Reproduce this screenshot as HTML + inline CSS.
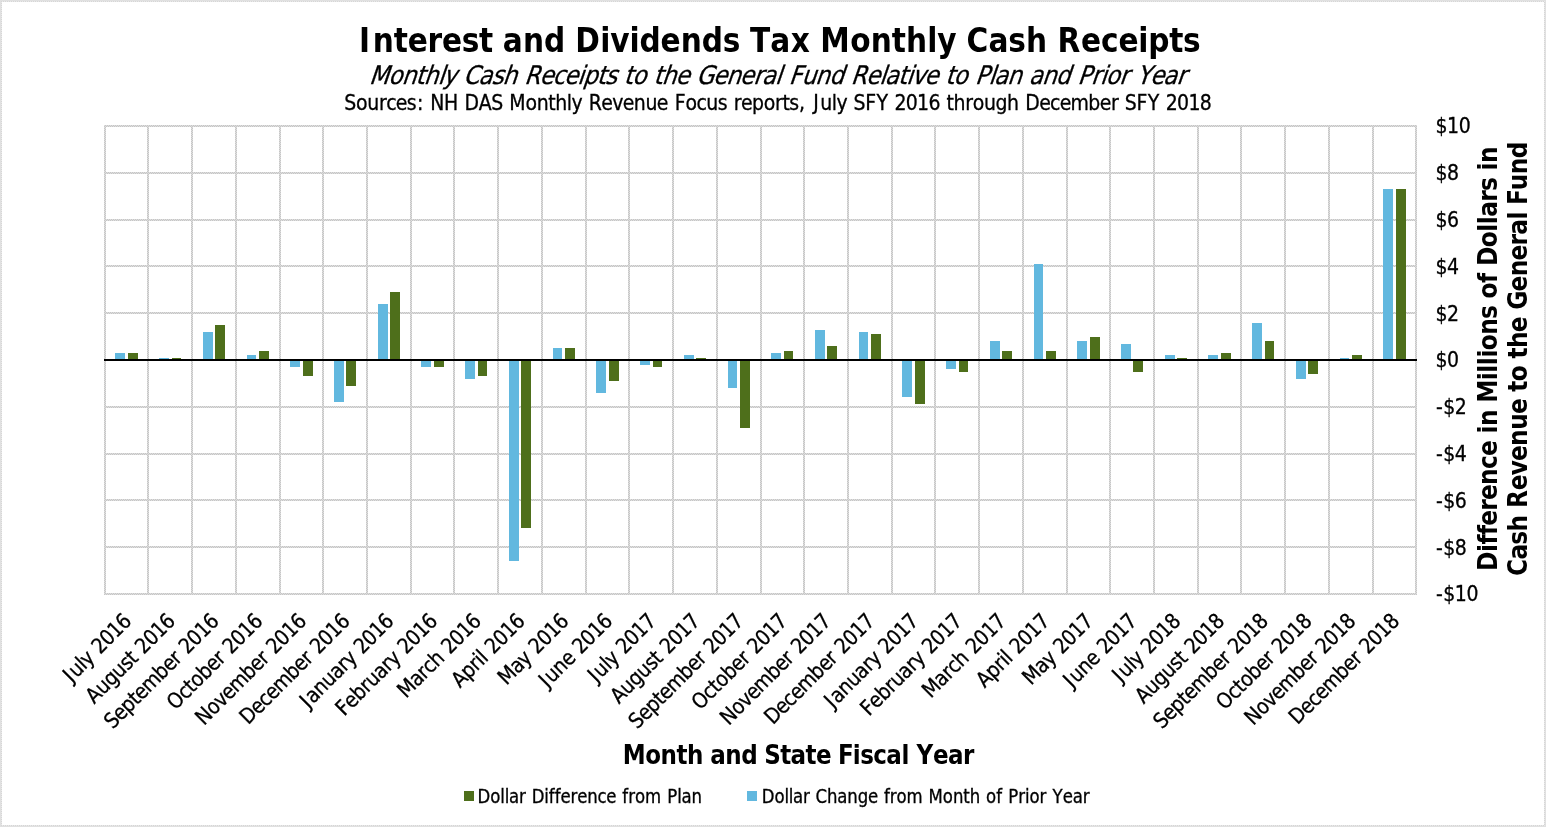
<!DOCTYPE html>
<html lang="en"><head><meta charset="utf-8">
<title>Interest and Dividends Tax Monthly Cash Receipts</title>
<style>html,body{margin:0;padding:0;background:#fff}body{width:1546px;height:827px;overflow:hidden}svg{display:block}text{font-family:'DejaVu Sans Condensed','DejaVu Sans','Liberation Sans',sans-serif;fill:#000;font-variant-ligatures:none;font-kerning:none}</style>
</head><body>
<svg width="1546" height="827" viewBox="0 0 1546 827">
<rect x="0" y="0" width="1546" height="827" fill="#fff"/>
<defs><pattern id="ck" width="2" height="2" patternUnits="userSpaceOnUse"><rect width="2" height="2" fill="#dedede"/><rect x="0" y="0" width="1" height="1" fill="#c6c6c6"/><rect x="1" y="1" width="1" height="1" fill="#c6c6c6"/></pattern><pattern id="dt" width="2" height="2" patternUnits="userSpaceOnUse"><rect width="2" height="2" fill="#e9e9e9"/><rect x="0" y="0" width="1" height="1" fill="#d6d6d6"/><rect x="1" y="1" width="1" height="1" fill="#d6d6d6"/></pattern></defs>
<g shape-rendering="crispEdges">
<rect x="0" y="0" width="1546" height="827" fill="#e0e0e0"/>
<rect x="1" y="1" width="1544" height="825" fill="url(#dt)"/>
<rect x="2" y="2" width="1542" height="823" fill="#fff"/>
</g>
<g fill="url(#ck)" shape-rendering="crispEdges">
<rect x="104" y="125" width="2" height="470"/>
<rect x="147" y="125" width="2" height="470"/>
<rect x="191" y="125" width="2" height="470"/>
<rect x="235" y="125" width="2" height="470"/>
<rect x="279" y="125" width="2" height="470"/>
<rect x="322" y="125" width="2" height="470"/>
<rect x="366" y="125" width="2" height="470"/>
<rect x="410" y="125" width="2" height="470"/>
<rect x="453" y="125" width="2" height="470"/>
<rect x="497" y="125" width="2" height="470"/>
<rect x="541" y="125" width="2" height="470"/>
<rect x="585" y="125" width="2" height="470"/>
<rect x="628" y="125" width="2" height="470"/>
<rect x="672" y="125" width="2" height="470"/>
<rect x="716" y="125" width="2" height="470"/>
<rect x="760" y="125" width="2" height="470"/>
<rect x="803" y="125" width="2" height="470"/>
<rect x="847" y="125" width="2" height="470"/>
<rect x="891" y="125" width="2" height="470"/>
<rect x="934" y="125" width="2" height="470"/>
<rect x="978" y="125" width="2" height="470"/>
<rect x="1022" y="125" width="2" height="470"/>
<rect x="1066" y="125" width="2" height="470"/>
<rect x="1109" y="125" width="2" height="470"/>
<rect x="1153" y="125" width="2" height="470"/>
<rect x="1197" y="125" width="2" height="470"/>
<rect x="1240" y="125" width="2" height="470"/>
<rect x="1284" y="125" width="2" height="470"/>
<rect x="1328" y="125" width="2" height="470"/>
<rect x="1372" y="125" width="2" height="470"/>
<rect x="1415" y="125" width="2" height="470"/>
<rect x="104" y="125" width="1313" height="2"/>
<rect x="104" y="172" width="1313" height="2"/>
<rect x="104" y="219" width="1313" height="2"/>
<rect x="104" y="265" width="1313" height="2"/>
<rect x="104" y="312" width="1313" height="2"/>
<rect x="104" y="406" width="1313" height="2"/>
<rect x="104" y="453" width="1313" height="2"/>
<rect x="104" y="499" width="1313" height="2"/>
<rect x="104" y="546" width="1313" height="2"/>
<rect x="104" y="593" width="1313" height="2"/>
</g>
<g shape-rendering="crispEdges">
<rect x="115" y="353" width="10" height="7" fill="#62b8df"/>
<rect x="128" y="353" width="10" height="7" fill="#4e6f1b"/>
<rect x="159" y="358" width="10" height="2" fill="#62b8df"/>
<rect x="172" y="358" width="9" height="2" fill="#4e6f1b"/>
<rect x="203" y="332" width="10" height="28" fill="#62b8df"/>
<rect x="215" y="325" width="10" height="35" fill="#4e6f1b"/>
<rect x="247" y="355" width="9" height="5" fill="#62b8df"/>
<rect x="259" y="351" width="10" height="9" fill="#4e6f1b"/>
<rect x="290" y="360" width="10" height="7" fill="#62b8df"/>
<rect x="303" y="360" width="10" height="16" fill="#4e6f1b"/>
<rect x="334" y="360" width="10" height="42" fill="#62b8df"/>
<rect x="346" y="360" width="10" height="26" fill="#4e6f1b"/>
<rect x="378" y="304" width="10" height="56" fill="#62b8df"/>
<rect x="390" y="292" width="10" height="68" fill="#4e6f1b"/>
<rect x="421" y="360" width="10" height="7" fill="#62b8df"/>
<rect x="434" y="360" width="10" height="7" fill="#4e6f1b"/>
<rect x="465" y="360" width="10" height="19" fill="#62b8df"/>
<rect x="478" y="360" width="9" height="16" fill="#4e6f1b"/>
<rect x="509" y="360" width="10" height="201" fill="#62b8df"/>
<rect x="521" y="360" width="10" height="168" fill="#4e6f1b"/>
<rect x="553" y="348" width="9" height="12" fill="#62b8df"/>
<rect x="565" y="348" width="10" height="12" fill="#4e6f1b"/>
<rect x="596" y="360" width="10" height="33" fill="#62b8df"/>
<rect x="609" y="360" width="10" height="21" fill="#4e6f1b"/>
<rect x="640" y="360" width="10" height="5" fill="#62b8df"/>
<rect x="653" y="360" width="9" height="7" fill="#4e6f1b"/>
<rect x="684" y="355" width="10" height="5" fill="#62b8df"/>
<rect x="696" y="358" width="10" height="2" fill="#4e6f1b"/>
<rect x="728" y="360" width="9" height="28" fill="#62b8df"/>
<rect x="740" y="360" width="10" height="68" fill="#4e6f1b"/>
<rect x="771" y="353" width="10" height="7" fill="#62b8df"/>
<rect x="784" y="351" width="9" height="9" fill="#4e6f1b"/>
<rect x="815" y="330" width="10" height="30" fill="#62b8df"/>
<rect x="827" y="346" width="10" height="14" fill="#4e6f1b"/>
<rect x="859" y="332" width="9" height="28" fill="#62b8df"/>
<rect x="871" y="334" width="10" height="26" fill="#4e6f1b"/>
<rect x="902" y="360" width="10" height="37" fill="#62b8df"/>
<rect x="915" y="360" width="10" height="44" fill="#4e6f1b"/>
<rect x="946" y="360" width="10" height="9" fill="#62b8df"/>
<rect x="959" y="360" width="9" height="12" fill="#4e6f1b"/>
<rect x="990" y="341" width="10" height="19" fill="#62b8df"/>
<rect x="1002" y="351" width="10" height="9" fill="#4e6f1b"/>
<rect x="1034" y="264" width="9" height="96" fill="#62b8df"/>
<rect x="1046" y="351" width="10" height="9" fill="#4e6f1b"/>
<rect x="1077" y="341" width="10" height="19" fill="#62b8df"/>
<rect x="1090" y="337" width="10" height="23" fill="#4e6f1b"/>
<rect x="1121" y="344" width="10" height="16" fill="#62b8df"/>
<rect x="1133" y="360" width="10" height="12" fill="#4e6f1b"/>
<rect x="1165" y="355" width="10" height="5" fill="#62b8df"/>
<rect x="1177" y="358" width="10" height="2" fill="#4e6f1b"/>
<rect x="1208" y="355" width="10" height="5" fill="#62b8df"/>
<rect x="1221" y="353" width="10" height="7" fill="#4e6f1b"/>
<rect x="1252" y="323" width="10" height="37" fill="#62b8df"/>
<rect x="1265" y="341" width="9" height="19" fill="#4e6f1b"/>
<rect x="1296" y="360" width="10" height="19" fill="#62b8df"/>
<rect x="1308" y="360" width="10" height="14" fill="#4e6f1b"/>
<rect x="1340" y="358" width="9" height="2" fill="#62b8df"/>
<rect x="1352" y="355" width="10" height="5" fill="#4e6f1b"/>
<rect x="1383" y="189" width="10" height="171" fill="#62b8df"/>
<rect x="1396" y="189" width="10" height="171" fill="#4e6f1b"/>
</g>
<rect x="104" y="359" width="1313" height="2" fill="#000" shape-rendering="crispEdges"/>
<text transform="translate(356.50,51.80) scale(0.9880,1)" font-size="33.33" font-weight="bold"><tspan x="2.58 16.45 37.79 51.85 71.99 86.58 106.55 124.04">Interest</tspan> <tspan x="148.13 168.50 189.87">and</tspan> <tspan x="221.47 246.67 256.91 276.43 286.56 307.77 328.11 349.49 370.62">Dividends</tspan> <tspan x="398.25 418.82 439.58">Tax</tspan> <tspan x="469.51 499.64 520.49 541.84 556.17 577.62 587.81">Monthly</tspan> <tspan x="617.47 639.75 659.75 677.51">Cash</tspan> <tspan x="709.61 733.28 753.50 771.15 791.32 801.44 822.66 836.63">Receipts</tspan></text>
<text transform="translate(369.0,83.8) skewX(-19) translate(0.00,0.00) scale(0.9850,1)" font-size="25.60" stroke="#000" stroke-width="0.3"><tspan x="-0.21 19.26 32.90 46.94 55.40 69.43 74.99">Monthly</tspan> <tspan x="95.53 110.72 124.03 135.39">Cash</tspan> <tspan x="157.47 172.85 186.06 197.75 211.17 216.92 230.91 239.27">Receipts</tspan> <tspan x="258.49 267.03">to</tspan> <tspan x="288.52 296.99 310.87">the</tspan> <tspan x="331.99 348.88 362.34 376.23 389.76 398.60 411.97">General</tspan> <tspan x="425.91 438.85 452.93 466.93">Fund</tspan> <tspan x="488.95 504.34 517.75 523.41 536.79 545.20 550.76 563.41">Relative</tspan> <tspan x="584.73 593.26">to</tspan> <tspan x="615.06 628.65 634.31 647.73">Plan</tspan> <tspan x="669.53 682.95 696.96">and</tspan> <tspan x="719.15 732.86 741.82 747.72 761.42">Prior</tspan> <tspan x="778.83 792.68 805.97 819.46">Year</tspan></text>
<text transform="translate(344.50,109.70) scale(0.9850,1)" font-size="21.33" stroke="#000" stroke-width="0.3"><tspan x="-0.20 11.65 23.08 34.93 42.28 52.08 63.27 73.49">Sources:</tspan> <tspan x="86.96 101.11">NH</tspan> <tspan x="121.87 136.21 148.91">DAS</tspan> <tspan x="167.39 183.69 195.12 206.87 213.98 225.72 230.40">Monthly</tspan> <tspan x="247.86 260.75 271.81 282.41 293.69 305.49 317.13">Revenue</tspan> <tspan x="335.21 346.11 357.32 367.29 378.99">Focus</tspan> <tspan x="395.19 402.59 413.81 425.63 437.10 444.62 451.63 461.50">reports,</tspan> <tspan x="475.95 483.01 494.75 499.42">July</tspan> <tspan x="516.78 528.75 540.02">SFY</tspan> <tspan x="558.25 569.80 581.35 592.89">2016</tspan> <tspan x="611.16 618.27 630.12 637.74 649.17 660.91 672.66">through</tspan> <tspan x="691.05 705.26 716.33 726.13 737.14 755.12 766.72 778.05">December</tspan> <tspan x="792.21 804.19 815.45">SFY</tspan> <tspan x="833.69 845.23 856.78 868.33">2018</tspan></text>
<text transform="translate(1435.60,133.30) scale(0.9850,1)" font-size="21.33" stroke="#000" stroke-width="0.3"><tspan x="-0.19 11.63 23.46">$10</tspan></text>
<text transform="translate(1435.60,180.10) scale(0.9850,1)" font-size="21.33" stroke="#000" stroke-width="0.3"><tspan x="-0.19 11.63">$8</tspan></text>
<text transform="translate(1435.60,226.90) scale(0.9850,1)" font-size="21.33" stroke="#000" stroke-width="0.3"><tspan x="-0.19 11.63">$6</tspan></text>
<text transform="translate(1435.60,273.70) scale(0.9850,1)" font-size="21.33" stroke="#000" stroke-width="0.3"><tspan x="-0.19 11.63">$4</tspan></text>
<text transform="translate(1435.60,320.50) scale(0.9850,1)" font-size="21.33" stroke="#000" stroke-width="0.3"><tspan x="-0.19 11.63">$2</tspan></text>
<text transform="translate(1435.60,367.30) scale(0.9850,1)" font-size="21.33" stroke="#000" stroke-width="0.3"><tspan x="-0.19 11.63">$0</tspan></text>
<text transform="translate(1435.60,414.10) scale(0.9850,1)" font-size="21.33" stroke="#000" stroke-width="0.3"><tspan x="0.47 7.67 19.49">-$2</tspan></text>
<text transform="translate(1435.60,460.90) scale(0.9850,1)" font-size="21.33" stroke="#000" stroke-width="0.3"><tspan x="0.47 7.67 19.49">-$4</tspan></text>
<text transform="translate(1435.60,507.70) scale(0.9850,1)" font-size="21.33" stroke="#000" stroke-width="0.3"><tspan x="0.47 7.67 19.49">-$6</tspan></text>
<text transform="translate(1435.60,554.50) scale(0.9850,1)" font-size="21.33" stroke="#000" stroke-width="0.3"><tspan x="0.47 7.67 19.49">-$8</tspan></text>
<text transform="translate(1435.60,601.30) scale(0.9850,1)" font-size="21.33" stroke="#000" stroke-width="0.3"><tspan x="0.47 7.67 19.49 31.32">-$10</tspan></text>
<text transform="translate(132.56,622.50) rotate(-45) translate(-87.55,0.00) scale(0.9850,1)" font-size="21.33" stroke="#000" stroke-width="0.3"><tspan x="1.59 8.65 20.40 25.08">July</tspan> <tspan x="42.33 53.89 65.44 77.00">2016</tspan></text>
<text transform="translate(176.28,622.50) rotate(-45) translate(-115.63,0.00) scale(0.9850,1)" font-size="21.33" stroke="#000" stroke-width="0.3"><tspan x="-0.21 12.52 24.27 36.04 47.75 57.24">August</tspan> <tspan x="70.84 82.40 93.96 105.51">2016</tspan></text>
<text transform="translate(220.00,622.50) rotate(-45) translate(-151.62,0.00) scale(0.9850,1)" font-size="21.33" stroke="#000" stroke-width="0.3"><tspan x="-0.20 11.45 22.68 34.41 41.36 52.38 70.37 81.98 93.32">September</tspan> <tspan x="107.38 118.93 130.49 142.05">2016</tspan></text>
<text transform="translate(263.72,622.50) rotate(-45) translate(-124.72,0.00) scale(0.9850,1)" font-size="21.33" stroke="#000" stroke-width="0.3"><tspan x="-0.06 14.59 24.52 31.69 43.07 54.68 66.02">October</tspan> <tspan x="80.07 91.63 103.18 114.74">2016</tspan></text>
<text transform="translate(307.44,622.50) rotate(-45) translate(-146.16,0.00) scale(0.9850,1)" font-size="21.33" stroke="#000" stroke-width="0.3"><tspan x="-0.12 14.00 25.21 35.82 46.83 64.83 76.44 87.78">November</tspan> <tspan x="101.83 113.39 124.94 136.50">2016</tspan></text>
<text transform="translate(351.16,622.50) rotate(-45) translate(-145.26,0.00) scale(0.9850,1)" font-size="21.33" stroke="#000" stroke-width="0.3"><tspan x="-0.21 14.01 25.09 34.91 45.92 63.92 75.53 86.87">December</tspan> <tspan x="100.92 112.48 124.03 135.59">2016</tspan></text>
<text transform="translate(394.88,622.50) rotate(-45) translate(-123.81,0.00) scale(0.9850,1)" font-size="21.33" stroke="#000" stroke-width="0.3"><tspan x="1.59 8.50 19.76 31.57 43.24 54.54 61.89">January</tspan> <tspan x="79.14 90.70 102.25 113.81">2016</tspan></text>
<text transform="translate(438.60,622.50) rotate(-45) translate(-133.40,0.00) scale(0.9850,1)" font-size="21.33" stroke="#000" stroke-width="0.3"><tspan x="-0.01 10.69 21.92 33.74 41.31 52.98 64.28 71.63">February</tspan> <tspan x="88.88 100.43 111.99 123.55">2016</tspan></text>
<text transform="translate(482.32,622.50) rotate(-45) translate(-107.84,0.00) scale(0.9850,1)" font-size="21.33" stroke="#000" stroke-width="0.3"><tspan x="-0.12 16.00 27.30 34.66 44.63">March</tspan> <tspan x="62.92 74.48 86.04 97.60">2016</tspan></text>
<text transform="translate(526.04,622.50) rotate(-45) translate(-93.16,0.00) scale(0.9850,1)" font-size="21.33" stroke="#000" stroke-width="0.3"><tspan x="-0.21 12.46 24.27 31.78 36.63">April</tspan> <tspan x="48.02 59.58 71.14 82.69">2016</tspan></text>
<text transform="translate(569.76,622.50) rotate(-45) translate(-89.47,0.00) scale(0.9850,1)" font-size="21.33" stroke="#000" stroke-width="0.3"><tspan x="-0.12 16.00 27.03">May</tspan> <tspan x="44.28 55.83 67.39 78.95">2016</tspan></text>
<text transform="translate(613.48,622.50) rotate(-45) translate(-94.99,0.00) scale(0.9850,1)" font-size="21.33" stroke="#000" stroke-width="0.3"><tspan x="1.59 8.65 20.46 32.11">June</tspan> <tspan x="49.88 61.44 73.00 84.56">2016</tspan></text>
<text transform="translate(657.20,622.50) rotate(-45) translate(-87.55,0.00) scale(0.9850,1)" font-size="21.33" stroke="#000" stroke-width="0.3"><tspan x="1.59 8.65 20.40 25.08">July</tspan> <tspan x="42.33 53.89 65.44 77.00">2017</tspan></text>
<text transform="translate(700.92,622.50) rotate(-45) translate(-115.63,0.00) scale(0.9850,1)" font-size="21.33" stroke="#000" stroke-width="0.3"><tspan x="-0.21 12.52 24.27 36.04 47.75 57.24">August</tspan> <tspan x="70.84 82.40 93.96 105.51">2017</tspan></text>
<text transform="translate(744.64,622.50) rotate(-45) translate(-151.62,0.00) scale(0.9850,1)" font-size="21.33" stroke="#000" stroke-width="0.3"><tspan x="-0.20 11.45 22.68 34.41 41.36 52.38 70.37 81.98 93.32">September</tspan> <tspan x="107.38 118.93 130.49 142.05">2017</tspan></text>
<text transform="translate(788.36,622.50) rotate(-45) translate(-124.72,0.00) scale(0.9850,1)" font-size="21.33" stroke="#000" stroke-width="0.3"><tspan x="-0.06 14.59 24.52 31.69 43.07 54.68 66.02">October</tspan> <tspan x="80.07 91.63 103.18 114.74">2017</tspan></text>
<text transform="translate(832.08,622.50) rotate(-45) translate(-146.16,0.00) scale(0.9850,1)" font-size="21.33" stroke="#000" stroke-width="0.3"><tspan x="-0.12 14.00 25.21 35.82 46.83 64.83 76.44 87.78">November</tspan> <tspan x="101.83 113.39 124.94 136.50">2017</tspan></text>
<text transform="translate(875.80,622.50) rotate(-45) translate(-145.26,0.00) scale(0.9850,1)" font-size="21.33" stroke="#000" stroke-width="0.3"><tspan x="-0.21 14.01 25.09 34.91 45.92 63.92 75.53 86.87">December</tspan> <tspan x="100.92 112.48 124.03 135.59">2017</tspan></text>
<text transform="translate(919.52,622.50) rotate(-45) translate(-123.81,0.00) scale(0.9850,1)" font-size="21.33" stroke="#000" stroke-width="0.3"><tspan x="1.59 8.50 19.76 31.57 43.24 54.54 61.89">January</tspan> <tspan x="79.14 90.70 102.25 113.81">2017</tspan></text>
<text transform="translate(963.24,622.50) rotate(-45) translate(-133.40,0.00) scale(0.9850,1)" font-size="21.33" stroke="#000" stroke-width="0.3"><tspan x="-0.01 10.69 21.92 33.74 41.31 52.98 64.28 71.63">February</tspan> <tspan x="88.88 100.43 111.99 123.55">2017</tspan></text>
<text transform="translate(1006.96,622.50) rotate(-45) translate(-107.84,0.00) scale(0.9850,1)" font-size="21.33" stroke="#000" stroke-width="0.3"><tspan x="-0.12 16.00 27.30 34.66 44.63">March</tspan> <tspan x="62.92 74.48 86.04 97.60">2017</tspan></text>
<text transform="translate(1050.68,622.50) rotate(-45) translate(-93.16,0.00) scale(0.9850,1)" font-size="21.33" stroke="#000" stroke-width="0.3"><tspan x="-0.21 12.46 24.27 31.78 36.63">April</tspan> <tspan x="48.02 59.58 71.14 82.69">2017</tspan></text>
<text transform="translate(1094.40,622.50) rotate(-45) translate(-89.47,0.00) scale(0.9850,1)" font-size="21.33" stroke="#000" stroke-width="0.3"><tspan x="-0.12 16.00 27.03">May</tspan> <tspan x="44.28 55.83 67.39 78.95">2017</tspan></text>
<text transform="translate(1138.12,622.50) rotate(-45) translate(-94.99,0.00) scale(0.9850,1)" font-size="21.33" stroke="#000" stroke-width="0.3"><tspan x="1.59 8.65 20.46 32.11">June</tspan> <tspan x="49.88 61.44 73.00 84.56">2017</tspan></text>
<text transform="translate(1181.84,622.50) rotate(-45) translate(-87.55,0.00) scale(0.9850,1)" font-size="21.33" stroke="#000" stroke-width="0.3"><tspan x="1.59 8.65 20.40 25.08">July</tspan> <tspan x="42.33 53.89 65.44 77.00">2018</tspan></text>
<text transform="translate(1225.56,622.50) rotate(-45) translate(-115.63,0.00) scale(0.9850,1)" font-size="21.33" stroke="#000" stroke-width="0.3"><tspan x="-0.21 12.52 24.27 36.04 47.75 57.24">August</tspan> <tspan x="70.84 82.40 93.96 105.51">2018</tspan></text>
<text transform="translate(1269.28,622.50) rotate(-45) translate(-151.62,0.00) scale(0.9850,1)" font-size="21.33" stroke="#000" stroke-width="0.3"><tspan x="-0.20 11.45 22.68 34.41 41.36 52.38 70.37 81.98 93.32">September</tspan> <tspan x="107.38 118.93 130.49 142.05">2018</tspan></text>
<text transform="translate(1313.00,622.50) rotate(-45) translate(-124.72,0.00) scale(0.9850,1)" font-size="21.33" stroke="#000" stroke-width="0.3"><tspan x="-0.06 14.59 24.52 31.69 43.07 54.68 66.02">October</tspan> <tspan x="80.07 91.63 103.18 114.74">2018</tspan></text>
<text transform="translate(1356.72,622.50) rotate(-45) translate(-146.16,0.00) scale(0.9850,1)" font-size="21.33" stroke="#000" stroke-width="0.3"><tspan x="-0.12 14.00 25.21 35.82 46.83 64.83 76.44 87.78">November</tspan> <tspan x="101.83 113.39 124.94 136.50">2018</tspan></text>
<text transform="translate(1400.44,622.50) rotate(-45) translate(-145.26,0.00) scale(0.9850,1)" font-size="21.33" stroke="#000" stroke-width="0.3"><tspan x="-0.21 14.01 25.09 34.91 45.92 63.92 75.53 86.87">December</tspan> <tspan x="100.92 112.48 124.03 135.59">2018</tspan></text>
<text transform="translate(623.00,763.85) scale(0.9880,1)" font-size="25.90" font-weight="bold"><tspan x="-0.29 22.43 38.05 54.15 64.80">Month</tspan> <tspan x="88.35 103.60 119.62">and</tspan> <tspan x="142.98 159.08 169.65 184.79 195.24">State</tspan> <tspan x="217.49 232.64 240.04 253.27 266.57 281.85">Fiscal</tspan> <tspan x="297.14 313.67 328.83 344.02">Year</tspan></text>
<rect x="464" y="791" width="10" height="10" fill="#4e6f1b" shape-rendering="crispEdges"/>
<text transform="translate(477.50,802.90) scale(0.9850,1)" font-size="18.67" stroke="#000" stroke-width="0.3"><tspan x="0.01 13.01 23.19 27.56 31.95 42.11">Dollar</tspan> <tspan x="54.99 67.79 72.40 78.47 84.32 94.50 101.25 111.45 121.90 130.78">Difference</tspan> <tspan x="147.04 153.02 159.96 170.13">from</tspan> <tspan x="192.52 202.70 207.09 217.26">Plan</tspan></text>
<rect x="747" y="791" width="10" height="10" fill="#62b8df" shape-rendering="crispEdges"/>
<text transform="translate(761.80,802.90) scale(0.9850,1)" font-size="18.67" stroke="#000" stroke-width="0.3"><tspan x="-0.02 12.94 23.09 27.44 31.81 41.93">Dollar</tspan> <tspan x="54.61 66.19 76.67 86.80 97.36 107.80">Change</tspan> <tspan x="124.00 129.96 136.86 146.98">from</tspan> <tspan x="169.20 183.82 194.11 204.63 211.09">Month</tspan> <tspan x="227.71 238.09">of</tspan> <tspan x="250.21 260.49 267.21 271.76 282.04">Prior</tspan> <tspan x="295.22 305.67 315.70 325.81">Year</tspan></text>
<text transform="translate(1497.0,570.8) rotate(-90) translate(0.00,0.00) scale(0.9880,1)" font-size="26.20" font-weight="bold"><tspan x="-0.21 18.95 26.52 36.19 45.67 60.86 71.69 86.92 103.09 116.27">Difference</tspan> <tspan x="138.99 146.56">in</tspan> <tspan x="170.04 192.86 200.50 208.15 215.79 223.36 238.98 254.97">Millions</tspan> <tspan x="275.64 291.25">of</tspan> <tspan x="308.42 327.50 343.20 350.84 358.33 373.54 384.35">Dollars</tspan> <tspan x="405.09 412.66">in</tspan></text>
<text transform="translate(1527.0,575.9) rotate(-90) translate(0.00,0.00) scale(0.9880,1)" font-size="26.20" font-weight="bold"><tspan x="-0.20 16.53 31.57 44.83">Cash</tspan> <tspan x="68.86 86.66 101.83 116.37 131.61 147.82 163.84">Revenue</tspan> <tspan x="186.42 197.04">to</tspan> <tspan x="220.00 230.62 246.65">the</tspan> <tspan x="269.35 287.98 303.22 319.24 334.44 345.39 360.71">General</tspan> <tspan x="375.30 390.43 406.64 422.67">Fund</tspan></text>
</svg>
</body></html>
